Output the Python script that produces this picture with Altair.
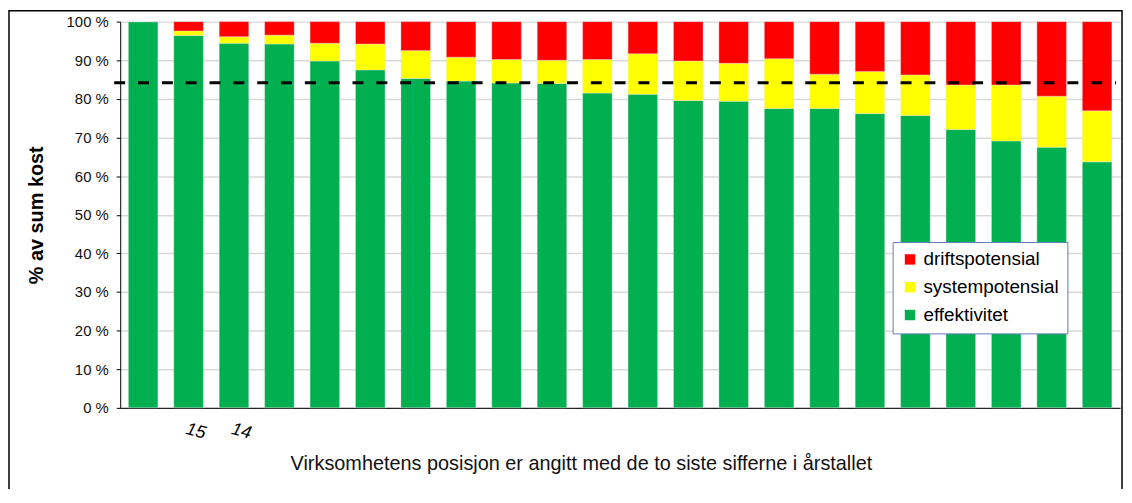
import altair as alt
import pandas as pd

positions = list(range(1, 23))
tick_labels = ["", "15", "14"] + [""] * 19
effektivitet = [100.0, 96.4, 94.4, 94.2, 89.8, 87.5, 85.3, 84.6, 84.1, 84.0, 81.5,
                81.2, 79.6, 79.4, 77.5, 77.5, 76.2, 75.7, 72.1, 69.1, 67.5, 63.7]
systempotensial = [0.0, 1.2, 1.7, 2.3, 4.6, 6.7, 7.2, 6.2, 6.1, 6.0, 8.7,
                   10.5, 10.2, 9.8, 12.9, 8.9, 10.9, 10.5, 11.5, 14.5, 13.2, 13.2]
driftspotensial = [round(100 - e - s, 1) for e, s in zip(effektivitet, systempotensial)]
reference_level = [84.2]

series = ["effektivitet", "systempotensial", "driftspotensial"]
colors = ["#00b050", "#ffff00", "#ff0000"]
legend_order = ["driftspotensial", "systempotensial", "effektivitet"]

rows = []
for i, p in enumerate(positions):
    for k, (name, vals) in enumerate(zip(series, [effektivitet, systempotensial, driftspotensial])):
        rows.append({"pos": p, "serie": name, "verdi": vals[i], "ord": k})
df = pd.DataFrame(rows)

W, H = 1007, 389
FONT = "Liberation Sans"

label_expr = " : ".join(
    f"datum.value == {p} ? '{t}'" for p, t in zip(positions, tick_labels) if t
) + " : ''"

y_scale = alt.Scale(domain=[0, 100], nice=False)
y_axis = alt.Axis(title="% av sum kost", values=list(range(0, 101, 10)),
                  labelExpr="datum.value + ' %'", labelFontSize=15,
                  labelOverlap=False,
                  labelColor="#111", labelPadding=8, tickSize=4,
                  tickColor="black", domainColor="black",
                  grid=True, gridColor="#d9d9d9", gridWidth=1.5,
                  titleFontSize=20, titleFontWeight="bold", titleColor="black",
                  titlePadding=20)

bars = alt.Chart(df).mark_bar(stroke="#e8e8e8", strokeWidth=0.6, strokeOpacity=0.6).encode(
    x=alt.X("pos:O", sort=positions,
            scale=alt.Scale(paddingInner=0.35, paddingOuter=0.18),
            axis=alt.Axis(title="Virksomhetens posisjon er angitt med de to siste sifferne i årstallet",
                          labelExpr=label_expr, labelAngle=15, labelFontSize=18,
                          labelFontStyle="italic", labelPadding=12, ticks=False,
                          labelOverlap=False,
                          domainColor="black", labelColor="black",
                          titleFontSize=20, titleFontWeight="normal", titleColor="#111",
                          titleX=464, titleY=46, titleAnchor="middle", titleBaseline="top")),
    y=alt.Y("verdi:Q", stack="zero", scale=y_scale, axis=y_axis),
    color=alt.Color("serie:N",
                    scale=alt.Scale(domain=series, range=colors),
                    sort=legend_order,
                    legend=alt.Legend(title=None, orient="none", legendX=778, legendY=222,
                                      values=legend_order,
                                      labelFontSize=19, labelColor="black",
                                      symbolType="square", symbolSize=110,
                                      symbolStrokeWidth=0, rowPadding=8,
                                      padding=8, fillColor="white",
                                      strokeColor="#5b7fb5", labelLimit=300)),
    order=alt.Order("ord:Q", sort="ascending"),
)

ref = alt.Chart(pd.DataFrame({"verdi": reference_level})).mark_rule(
    color="black", strokeWidth=3, strokeDash=[11, 13]
).encode(
    y=alt.Y("verdi:Q", scale=y_scale, axis=y_axis),
    x=alt.value(-6),
    x2=alt.value(W - 4),
)

frame = alt.Chart(pd.DataFrame({"a": [0]})).mark_rect(
    fill=None, stroke="black", strokeWidth=1.5, clip=False
).encode(
    x=alt.value(-112), x2=alt.value(W + 2),
    y=alt.value(-11), y2=alt.value(H + 94),
)

chart = alt.layer(bars, ref, frame).properties(
    width=W, height=H,
    autosize=alt.AutoSizeParams(type="none"),
    padding={"left": 113, "top": 12, "right": 4, "bottom": 80},
).configure(font=FONT).configure_view(stroke=None).configure_axisX(grid=False)

chart.save("out.html", embed_options={"renderer": "svg", "actions": False})
